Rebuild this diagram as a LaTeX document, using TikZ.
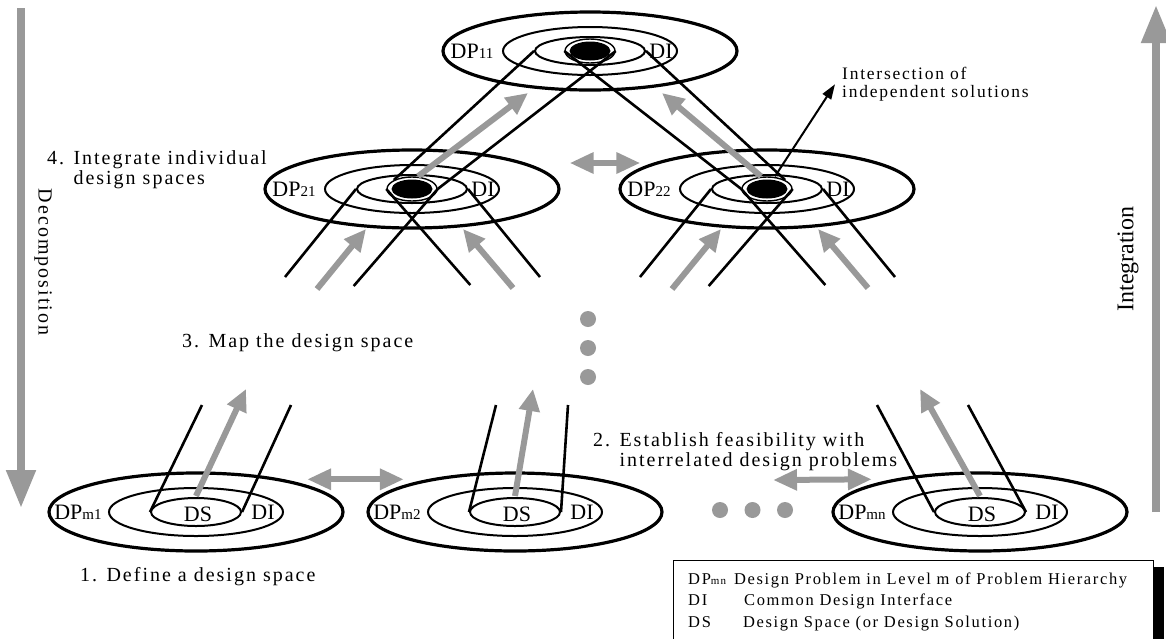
\documentclass[tikz,border=0pt]{standalone}
\usepackage{fontspec}
\setmainfont{Liberation Serif}
\newfontfamily\spaced[LetterSpace=10]{Liberation Serif}
\usetikzlibrary{arrows.meta, shapes.geometric}
\definecolor{arrowgray}{RGB}{153,153,153}

% problem name with its index set small on the baseline
\newcommand{\dpsub}[2][15]{DP{\fontsize{#1}{#1}\selectfont #2}}

\begin{document}
\begin{tikzpicture}[x=1pt, y=-1pt,
    ring/.style={draw, ellipse, inner sep=0},
    outer/.style={ring, line width=3.2pt, minimum width=294pt, minimum height=78pt},
    middle/.style={ring, line width=2pt, minimum width=174pt, minimum height=48pt},
    inner/.style={ring, line width=2pt, minimum width=#1, minimum height=28pt},
    hub/.style={ring, line width=1.4pt, minimum width=50pt, minimum height=24pt,
      path picture={\fill (path picture bounding box.center) ellipse (20.5pt and 9.5pt);}},
    cone/.style={line width=2.6pt},
    flow/.style={arrowgray, line width=6pt, -{Triangle[length=22pt, width=20pt]}},
    both/.style={flow, {Triangle[length=24pt, width=20pt]}-{Triangle[length=24pt, width=20pt]}},
    bigflow/.style={arrowgray, line width=8pt, -{Triangle[length=38pt, width=28pt]}},
    pointer/.style={line width=2pt, -{Triangle[length=15pt, width=10pt]}},
    spot/.style={circle, fill=arrowgray, inner sep=0, minimum size=16pt},
    ringtext/.style={inner sep=0, font=\fontsize{22}{22}\selectfont},
    note/.style={inner sep=0, align=left, font=\spaced\fontsize{20}{20}\selectfont},
  ]
  \useasboundingbox (0,0) rectangle (1166,638);

  % upper levels
  \foreach \n/\x/\y in {11/590/51, 21/412/189, 22/767/189} {
    \node[outer] (dp\n) at (\x,\y) {};
    \node[middle] (mid\n) at (\x,\y) {};
    \node[inner=110pt] (in\n) at (\x,\y) {};
    \node[hub] (hub\n) at (\x,\y) {};
    \node[ringtext] (dplab\n) at (\x-118,\y) {\dpsub{\n}};
    \node[ringtext] (dilab\n) at (\x+71,\y) {DI};
  }

  % cones below the second level
  \foreach \n in {21, 22} {
    \draw[cone] (in\n.west) -- ++(-71,88);
    \draw[cone] (hub\n.east) -- ++(-84,97);
    \draw[cone] (hub\n.west) -- ++(84,96);
    \draw[cone] (in\n.east) -- ++(72,88);
    \draw[flow] ([shift={(-95,100)}]dp\n.center) -- ++(49,-60);
    \draw[flow] ([shift={(101,99)}]dp\n.center) -- ++(-50,-59);
  }

  % cone below the top level
  \draw[cone] (in11.west) -- (hub21.north west);
  \draw[cone] (hub11.east) -- (hub21.east);
  \draw[cone] (hub11.west) -- (hub22.west);
  \draw[cone] (in11.east) -- (hub22.north east);
  \draw[flow] ([xshift=6pt]hub21.north) -- ([shift={(-62,42)}]dp11.center);
  \draw[flow] ([xshift=-6pt]hub22.north) -- ([shift={(72,42)}]dp11.center);
  \draw[both] ([shift={(9,-26)}]dp21.east) -- ([shift={(22,-26)}]dp22.west);

  % bottom level
  \foreach \n/\x/\a/\b/\c in {m1/196/52/49/50, m2/515/27/7/18, mn/980/-57/-58/-60} {
    \node[outer] (dp\n) at (\x,512) {};
    \node[middle] (mid\n) at (\x,512) {};
    \node[inner=90pt] (in\n) at (\x,512) {};
    \node[ringtext] (dplab\n) at (\x-118,512) {\dpsub{\n}};
    \node[ringtext] (ds\n) at (\x+2,514) {DS};
    \node[ringtext] (dilab\n) at (\x+67,512) {DI};
    \draw[cone] (in\n.west) -- ++(\a,-107);
    \draw[cone] (in\n.east) -- ++(\b,-107);
    \draw[flow] ([yshift=1pt]in\n.north) -- ++(\c,-107);
  }

  \foreach \i in {0,1,2} {
    \node[spot] (vdot\i) at (588,319+29*\i) {};
    \node[spot] (hdot\i) at (720+32.5*\i,510) {};
  }
  \draw[both] ([shift={(6,-4)}]dpm1.north east) -- ([shift={(-6,-4)}]dpm2.north west);
  \draw[both] ([shift={(-12,-30)}]hdot2.center) -- ([shift={(-3,-4)}]dpmn.north west);

  % hierarchy directions
  \draw[bigflow] (21,8) -- (21,508);
  \draw[bigflow] (1156,512) -- (1156,5);
  \node[note, rotate=-90] (decomp) at (43,262) {Decomposition};
  \node[inner sep=0, rotate=90, font=\fontsize{24}{24}\selectfont] (integ) at (1128,259) {Integration};

  % step captions
  \node[note, anchor=west] (step1) at (80,577) {1. Define a design space};
  \node[note, anchor=north west] (step2) at (593,432)
    {2. Establish feasibility with\\\hphantom{2. }interrelated design problems};
  \node[note, anchor=west] (step3) at (182,343) {3. Map the design space};
  \node[note, anchor=north west] (step4) at (47,150)
    {4. Integrate individual\\\hphantom{4. }design spaces};

  \node[note, anchor=north west, font=\spaced\fontsize{17.5}{18}\selectfont] (isect) at (842,67)
    {Intersection of\\independent solutions};
  \draw[pointer] ([xshift=8pt]hub22.north) -- ([xshift=-7pt]isect.west);

  % legend
  \fill (1153,567) rectangle (1164,645);
  \draw[line width=0.8pt] (673,560) rectangle (1153,645);
  \node[anchor=north west, inner sep=0, font=\spaced\fontsize{16.5}{21.5}\selectfont] (legend) at (688,569) {%
    \begin{tabular}{@{}l@{\hspace{8pt}}l@{}}
      \dpsub[11]{mn} & Design Problem in Level m of Problem Hierarchy \\
      DI & \hspace{10pt}Common Design Interface \\
      DS & \hspace{9pt}Design Space (or Design Solution)
    \end{tabular}};
\end{tikzpicture}
\end{document}
